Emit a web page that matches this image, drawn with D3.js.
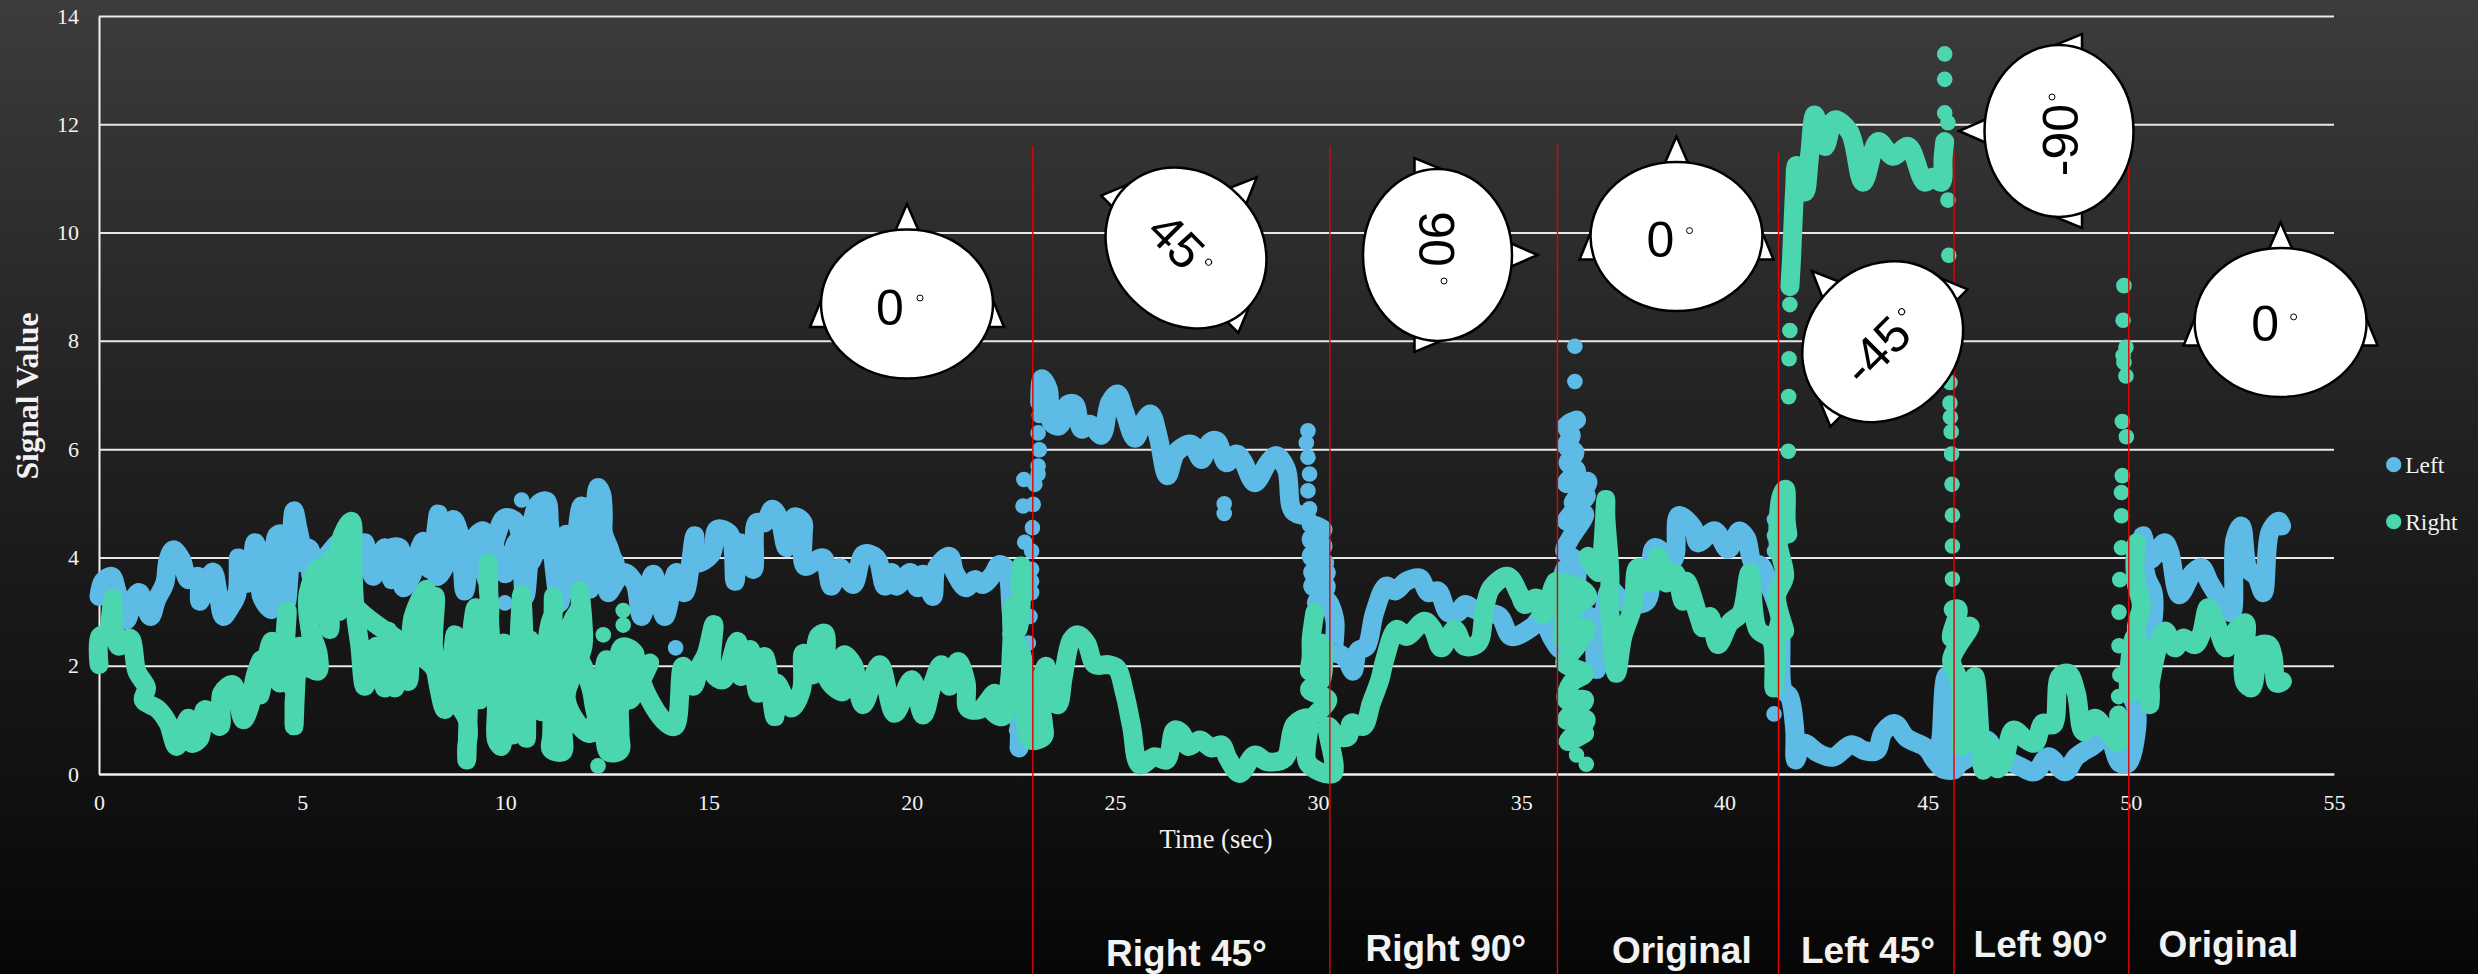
<!DOCTYPE html>
<html>
<head>
<meta charset="utf-8">
<script src="https://cdn.jsdelivr.net/npm/d3@7"></script>
<style>
  html, body { margin: 0; padding: 0; background: #000; overflow: hidden; }
  svg { display: block; }
  .axis text { font-family: "Liberation Serif", serif; fill: #f2f2f2; }
</style>
</head>
<body>
<div id="chart"></div>
<script>
const xTicks = [0, 5, 10, 15, 20, 25, 30, 35, 40, 45, 50, 55];
const yTicks = [0, 2, 4, 6, 8, 10, 12, 14];
const seriesNames = ['Left', 'Right'];
const phaseNames = ['Right 45°', 'Right 90°', 'Original', 'Left 45°', 'Left 90°', 'Original'];
const phaseTimes = [22.98, 30.29, 35.89, 41.33, 45.65, 49.95];
const phaseTops = [11.6, 11.6, 11.63, 11.47, 11.5, 11.5];
const headLabels = ['0', '45', '90', '0', '-45', '-90', '0'];

// [time, value] runs, each run is one unbroken band of markers
const leftRunA = [[0,3.28],[.1,3.56],[.31,3.65],[.43,3.41],[.56,3.04],[.68,2.85],[.84,3.22],[.99,3.35],[1.13,3.1],[1.27,2.91],[1.42,3.22],[1.62,3.53],[1.7,3.96],[1.83,4.14],[2.03,3.96],[2.2,3.59],[2.44,3.65],[2.48,3.19],[2.65,3.53],[2.81,3.73],[2.93,3.35],[3.06,2.91],[3.22,3.07],[3.39,3.31],[3.43,3.99],[3.47,3.59],[3.67,3.53],[3.84,4.27],[3.96,3.9],[4,3.28],[4.25,3.04],[4.37,4.4],[4.49,4.43],[4.61,3.16],[4.7,3.9],[4.8,4.86],[4.9,4.52],[5.02,4.21],[5.19,4.15],[5.23,3.65],[5.64,4.06],[6,4.3],[6.5,3.9],[6.54,4.27],[6.75,3.65],[7.03,4.18],[7.2,3.59],[7.16,4.15],[7.4,4.18],[7.49,3.44],[7.69,3.65],[7.98,4.3],[8.14,3.78],[8.35,4.8],[8.31,3.65],[8.51,3.84],[8.72,4.7],[8.88,4.4],[9,3.38],[9.21,4.33],[9.46,4.49],[9.54,3.59],[9.78,4.4],[9.99,4.73],[10.27,4.64],[10.48,3.28],[10.77,4.95],[11.01,5.04],[11.09,4.58],[11.34,3.16],[11.5,4.43],[11.59,3.41],[11.87,4.95],[12.08,3.41],[12.28,5.29],[12.37,5.17],[12.41,4.77],[12.41,4.46],[12.61,4.02],[12.53,3.35],[12.9,3.72],[13.18,3.53],[13.35,2.91],[13.64,3.69],[13.92,2.91],[14.21,3.72],[14.41,3.35],[14.66,4.4],[14.7,3.9],[15.07,4.06],[15.21,4.52],[15.52,4.43],[15.65,3.56],[15.77,4.27],[16.1,3.78],[16.18,4.64],[16.38,4.64],[16.57,4.89],[16.75,4.7],[16.92,4.18],[17.12,4.75],[17.33,4.64],[17.33,4.43],[17.37,3.84],[17.82,3.99],[18.02,3.47],[18.23,3.81],[18.56,3.5],[18.82,4.06],[19.13,3.99],[19.34,3.47],[19.5,3.72],[19.62,3.47],[19.97,3.72],[20.15,3.44],[20.28,3.69],[20.52,3.28],[20.61,3.81],[20.93,4.02],[21.06,3.72],[21.34,3.44],[21.55,3.59],[21.75,3.5],[22,3.69],[22.16,3.87],[22.33,3.78],[22.45,2.98],[22.65,.81],[22.64,.48]];
const leftRunBody = [[4.2,3.5],[4.4,4],[4.6,3.6],[4.8,4.2],[5,3.9],[5.3,4],[5.6,3.9],[6,4],[8.2,4],[8.5,4.3],[8.8,3.9],[9.1,4.2],[9.4,3.8],[9.7,4.2],[10,3.7],[10.3,4.3],[10.6,3.9],[10.9,4.4],[11.2,4],[11.5,3.9],[11.8,4.2],[12.1,3.9],[12.4,4.2],[12.7,3.9]];
const leftRunB = [[23.15,6.86],[23.2,7.3],[23.36,7.11],[23.44,6.49],[23.63,6.43],[23.85,6.83],[24.01,6.83],[24.18,6.37],[24.38,6.46],[24.67,6.26],[24.87,6.86],[25.06,7.02],[25.24,6.68],[25.49,6.2],[25.69,6.49],[25.88,6.65],[26.06,6.25],[26.29,5.51],[26.51,5.94],[26.88,6.09],[27.13,5.81],[27.33,6.12],[27.51,6.15],[27.74,5.75],[27.99,5.91],[28.15,5.78],[28.44,5.38],[28.77,5.75],[28.97,5.88],[29.22,5.63],[29.38,4.86],[29.71,4.77]];
const leftRunC = [[29.83,4.61],[30.12,4.52],[29.83,4.33],[30.12,4.21],[29.83,4.02],[30.16,3.9],[29.87,3.72],[30.2,3.72],[29.87,3.47],[30.2,3.47],[29.96,3.16],[30.2,3.22],[30.41,2.85],[30.41,2.23],[30.49,2.23],[30.7,2.11],[30.86,1.9],[30.98,2.27],[31.19,2.36],[31.39,2.98],[31.68,3.47],[31.89,3.38],[32.17,3.56],[32.5,3.62],[32.71,3.35],[32.95,3.38],[33.2,2.98],[33.44,2.98],[33.61,3.13],[33.85,3.04],[34.14,2.98],[34.47,2.91],[34.75,2.54],[35.29,2.73],[35.49,2.88],[35.78,2.48],[35.98,2.3],[36.07,3.78],[36.4,3.9],[36.07,4.12],[36.19,4.33],[36.56,4.8],[36.11,4.67],[36.6,5.14],[36.28,5.01],[36.64,5.4],[36.11,5.37],[36.36,5.6],[36.15,5.75],[36.32,5.94],[36.11,6.06],[36.23,6.25],[36.11,6.43],[36.36,6.54]];
const leftRunD = [[36.4,3.9],[36.4,2.85],[36.69,2.91],[36.85,1.93],[37.18,3.41],[37.38,3.28],[37.55,3.16],[38.08,3.19],[38.28,4.18],[38.74,3.96],[38.87,4.77],[39.23,4.55],[39.35,4.27],[39.76,4.49],[40.09,4.15],[40.37,4.49],[40.54,4.36],[40.7,3.9],[40.91,3.84],[41.11,3.47],[41.36,2.91],[41.44,1.56],[41.6,1.43],[41.73,.81],[41.75,.26],[41.94,.57],[42.3,.39],[42.67,.31],[43.12,.54],[43.45,.43],[43.74,.43],[43.9,.76],[44.19,.93],[44.48,.67],[44.97,.48],[45.21,.22],[45.46,.09],[45.42,1.06],[45.51,1.8],[45.46,1.81],[45.34,.76],[45.3,.14],[45.63,.07],[45.79,.2],[46.04,.32],[46.45,.63],[46.7,.38],[47.27,.14],[47.64,.04],[47.97,.32],[48.38,.04],[48.66,.32],[49.15,.57],[49.4,.8],[49.73,.2],[49.93,.2],[50.14,.81],[50.14,1.19],[50.02,1.49],[50.3,2],[50.55,2.85],[50.55,3.35],[50.38,3.65],[50.3,4.4],[50.47,3.96],[50.83,4.27],[50.96,4.09],[51.19,3.31],[51.53,3.72],[51.74,3.81],[51.94,3.53],[52.31,3.1],[52.48,2.98],[52.56,4.33],[52.72,4.58],[52.89,3.78],[53.09,3.65],[53.26,3.35],[53.42,4.46],[53.64,4.67],[53.71,4.58]];
const leftDots = [[9.99,3.16],[10.4,5.06],[14.19,2.33],[22.58,.81],[22.87,2.42],[22.91,2.91],[22.95,3.35],[22.95,3.56],[22.95,3.78],[22.95,4.12],[22.78,4.28],[22.97,4.55],[22.74,4.95],[22.99,4.98],[22.76,5.44],[23.03,5.35],[23.11,5.54],[23.11,5.69],[23.14,5.99],[23.11,6.3],[23.14,6.62],[27.69,4.99],[27.69,4.81],[29.75,6.34],[29.71,6.12],[29.75,5.85],[29.79,5.54],[29.75,5.23],[29.79,4.9],[36.32,7.9],[36.32,7.25],[41.23,4.7],[41.23,4.4],[41.23,4.12],[41.22,1.11]];

const rightRunA = [[0,2.02],[.02,2.54],[.19,2.6],[.34,3.25],[.35,2.98],[.48,2.36],[.72,2.51],[.8,2.48],[.93,1.9],[1.17,1.59],[1.09,1.37],[1.46,1.19],[1.7,.94],[1.91,.51],[2.2,1.03],[2.28,.57],[2.48,.66],[2.61,1.19],[2.98,.88],[3.02,1.49],[3.3,1.65],[3.55,1],[3.71,1.25],[3.84,1.8],[4,2.11],[3.96,1.46],[4.25,2.45],[4.45,1.68],[4.63,3.01],[4.61,1.74],[4.8,1.56],[4.8,1.31],[4.8,1.06],[4.8,.89],[4.86,1.86],[4.94,2.36],[5.1,2.02],[5.39,1.9],[5.39,2.23],[5.19,2.7],[5.15,3.35],[5.43,3.81],[5.68,2.67],[5.68,3.96],[6.01,3.07],[5.93,4.27],[6.21,4.67],[6.25,3.78],[6.3,3.04],[6.42,2.36],[6.54,1.62],[6.83,2.36],[7.03,1.59],[7.11,2.64],[7.28,1.59],[7.4,2.36],[7.61,1.71],[7.73,2.91],[8.06,3.41],[7.9,2.36],[8.27,3.28],[8.23,2.36],[8.39,1.49],[8.51,1.19],[8.76,2.57],[8.72,1.49],[9.06,1],[9.09,.72],[9.05,.51],[9.05,.26],[9.17,2.6],[9.27,3.07],[9.37,1.37],[9.62,3.07],[9.58,3.41],[9.58,3.9],[9.62,2.7],[9.78,1.31],[9.78,.63],[9.9,.51],[9.95,2.42],[10.19,.72],[10.36,2.85],[10.4,3.31],[10.52,.97],[10.52,.66],[10.6,2.48],[10.89,1.15],[11.01,2.36],[11.09,2.76],[11.18,2.98],[11.18,3.27],[11.14,.72],[11.12,.46],[11.41,.41],[11.42,.75],[11.41,.94],[11.63,2.79],[11.83,3.07],[11.83,3.38],[11.91,2.79],[11.91,2.36],[11.5,1.37],[12.08,.75],[12.49,2.11],[12.53,.41],[12.82,.44],[12.82,.75],[12.87,2.34],[13.18,2.23],[13.06,1.37],[13.55,2.05],[13.35,1.8],[13.88,1],[14.17,.88],[14.37,1.99],[14.62,1.62],[14.79,1.99],[14.95,2.23],[15.13,2.76],[15.11,1.86],[15.36,1.74],[15.71,2.45],[15.81,1.8],[16.02,2.3],[16.22,1.49],[16.38,2.17],[16.63,1.06],[16.67,1.68],[17.04,1.22],[17.29,1.56],[17.33,2.23],[17.57,1.83],[17.7,2.54],[17.86,2.6],[17.94,1.74],[18.31,1.52],[18.33,2.2],[18.56,2.02],[18.8,1.28],[19.21,2.02],[19.58,1.12],[20,1.74],[20.28,1.09],[20.52,1.68],[20.73,2.02],[20.93,1.62],[21.14,2.08],[21.34,1.68],[21.38,1.22],[21.67,1.19],[22.04,1.49],[21.96,1.19],[22.24,1.06],[22.41,1.74],[22.45,2.23],[22.47,2.54],[22.49,3.07],[22.7,3.25],[22.66,3.47],[22.7,3.84],[22.61,2.67],[22.46,2.6],[22.7,2.23],[22.78,1.74],[22.78,1.19],[22.91,.63],[23.24,.69],[23.24,.94],[23.15,1.43],[23.3,1.99],[23.4,1.49],[23.6,1.28],[23.73,1.8],[23.93,2.48],[24.1,2.57],[24.3,2.42],[24.51,2.02],[24.83,2.02],[25.04,1.96],[25.24,1.49],[25.41,.88],[25.61,.17],[25.98,.32],[26.27,.26],[26.47,.81],[26.64,.75],[26.8,.51],[27.09,.63],[27.38,.48],[27.62,.54],[27.78,.29],[28.07,.01],[28.44,.35],[28.73,.23],[29.18,.29],[29.42,.91],[29.75,1.03],[29.75,.2],[30.37,.01],[30.24,.88],[30.49,.69],[30.74,.69],[30.82,.94],[31.11,.88],[31.31,1.31],[31.52,1.74],[31.64,2.11],[31.93,2.67],[32.17,2.54],[32.62,2.82],[32.83,2.67],[33.03,2.33],[33.36,2.67],[33.61,2.36],[33.94,2.42],[34.1,3.07],[34.26,3.44],[34.67,3.65],[34.96,3.31],[35.08,3.13],[35.37,3.25],[35.53,2.94],[35.86,3.56],[36.03,2.98],[36.03,2.48]];
const rightRunBody = [[4.3,2],[4.6,2.3],[4.9,1.9],[5.2,2.2],[5.2,3],[5.5,3.5],[5.6,3],[5.8,3.7],[5.9,3],[6.1,3.8],[6.2,3.2],[8.2,2],[8.5,1.6],[8.8,2],[9.1,1.6],[9.4,2.1],[9.7,1.5],[10,2.1],[10.3,1.5],[10.6,2.1],[10.9,1.6],[11.2,2.1],[11.5,1.6],[11.8,2.1],[12.1,1.6],[12.2,1.2],[12.4,.7],[12.5,1.8],[12.6,1],[12.7,1.7],[12.8,1.2],[13,1.9],[13.1,1.5],[13.3,1.9]];
const rightRunB = [[29.92,2.98],[29.83,2.48],[29.83,2.17],[29.79,1.9],[30.08,2.42],[30.08,1.74],[29.79,1.56],[30.24,1.37],[29.96,1.12]];
const rightRunC = [[36.03,3.53],[36.44,3.44],[36.64,3.28],[36.36,3.1],[36.03,2.54],[36.6,2.7],[36.36,2.36],[36.07,2.05],[36.56,1.86],[36.23,1.68],[36.11,1.37],[36.56,1.37],[36.11,1],[36.6,1],[36.15,.6],[36.56,.75]];
const rightRunD = [[36.64,4.02],[36.89,3.72],[37.08,5.07],[37.08,4.77],[37.18,3.72],[37.18,2.98],[37.34,1.86],[37.5,2.54],[37.75,3.1],[37.87,3.81],[38.24,3.53],[38.37,4.02],[38.57,3.53],[38.78,3.72],[38.98,3.19],[39.06,3.56],[39.39,2.85],[39.47,2.7],[39.64,2.91],[39.84,2.39],[40.13,2.79],[40.41,2.98],[40.62,3.72],[40.82,2.67],[41.15,2.48],[41.22,1.59],[41.36,2.79],[41.48,2.64],[41.28,3.28],[41.48,3.65],[41.32,4.27],[41.4,5.14],[41.5,5.26],[41.52,4.67],[41.56,4.43]];
const rightRunE = [[41.61,9],[41.65,9.51],[41.69,10.22],[41.73,10.84],[41.77,11.24],[41.98,10.75],[42.1,11.46],[42.22,12.17],[42.47,11.59],[42.71,12.08],[43.08,11.86],[43.41,10.93],[43.78,11.68],[44.15,11.41],[44.52,11.59],[44.93,10.93],[45.13,11.02],[45.34,10.93],[45.38,11.37],[45.42,11.68]];
const rightRunF = [[45.63,3.04],[45.75,3.04],[45.59,2.51],[46.04,2.73],[45.59,2.11],[45.79,1.68],[45.83,.51],[46.04,1.49],[46.16,1.8],[46.37,.07],[46.49,.57],[46.7,.1],[46.86,.2],[47.11,.81],[47.43,.63],[47.64,.57],[47.84,.94],[48.09,.91],[48.25,1.8],[48.46,1.86],[48.66,1.49],[48.83,.78],[49.11,1.03],[49.4,.81],[49.69,.57],[49.7,1.09]];
const rightRunG = [[50.14,4.27],[50.1,3.84],[50.14,3.5],[50.26,3.1],[50.14,2.73],[50.22,1.68],[49.97,1.49],[50.1,2.54],[50.47,1.62],[50.47,1.28],[50.47,1.62],[50.84,2.64],[51.08,2.33],[51.29,2.51],[51.58,2.39],[51.74,2.6],[51.9,3.07],[52.07,2.85],[52.35,2.33],[52.6,2.67],[52.82,2.79],[52.76,1.99],[52.81,1.68],[52.97,1.59],[53.09,2.05],[53.13,2.36],[53.38,2.39],[53.5,2.17],[53.58,1.68],[53.66,1.68],[53.73,1.71]];
const rightDots = [[12.28,.15],[12.41,2.57],[12.9,3.02],[12.9,2.75],[36.36,.35],[36.6,.18],[41.57,5.96],[41.58,6.97],[41.59,7.67],[41.61,8.19],[41.61,8.67],[45.42,13.3],[45.42,12.83],[45.42,12.21],[45.5,12.03],[45.5,10.6],[45.52,9.58],[45.55,7.23],[45.55,6.85],[45.56,6.59],[45.58,6.32],[45.59,5.91],[45.6,5.35],[45.61,4.78],[45.61,4.21],[45.61,3.6],[49.7,1.43],[49.73,1.83],[49.71,2.37],[49.71,2.99],[49.73,3.59],[49.77,4.18],[49.77,4.77],[49.77,5.2],[49.79,5.51],[49.89,6.23],[49.79,6.51],[49.88,7.35],[49.83,7.6],[49.81,7.73],[49.88,7.88],[49.81,8.38],[49.83,9.02]];

const leftRuns = [leftRunA, leftRunBody, leftRunB, leftRunC, leftRunD];
const rightRuns = [rightRunA, rightRunBody, rightRunB, rightRunC, rightRunD, rightRunE, rightRunF, rightRunG];

const W = 2478, H = 974;
const colors = {Left: '#5dbbe6', Right: '#4cd6b0'};
const R = 7.8;
const BAND = 19;

const x = d3.scaleLinear().domain([0, 55]).range([99, 2334]);
const y = d3.scaleLinear().domain([0, 14]).range([774, 16]);

const svg = d3.select('#chart').append('svg').attr('width', W).attr('height', H);

// backdrop
const grad = svg.append('defs').append('linearGradient')
  .attr('id', 'bg').attr('x1', 0).attr('x2', 0).attr('y1', 0).attr('y2', 1);
[[0, '#3c3c3c'], [.3, '#292929'], [.6, '#191919'], [.8, '#111111'], [1, '#060606']]
  .forEach(([o, c]) => grad.append('stop').attr('offset', o).attr('stop-color', c));
svg.append('rect').attr('width', W).attr('height', H).attr('fill', 'url(#bg)');

// axes
const yAxis = svg.append('g').attr('class', 'axis')
  .attr('transform', `translate(${x(0)},0)`)
  .call(d3.axisLeft(y).tickValues(yTicks).tickSize(-(x(55) - x(0))).tickSizeOuter(0).tickPadding(20));
const xAxis = svg.append('g').attr('class', 'axis')
  .attr('transform', `translate(0,${y(0)})`)
  .call(d3.axisBottom(x).tickValues(xTicks).tickSize(0).tickSizeOuter(0).tickPadding(20));
[yAxis, xAxis].forEach(a => {
  a.selectAll('.domain').attr('stroke', '#f0f0f0').attr('stroke-width', 2);
  a.selectAll('line').attr('stroke', '#e8e8e8').attr('stroke-width', 2);
  a.selectAll('text').attr('font-size', 22);
});

svg.append('text').attr('x', 1216).attr('y', 848).attr('text-anchor', 'middle')
  .attr('font-family', '"Liberation Serif", serif').attr('font-size', 26.5).attr('fill', '#f2f2f2')
  .text('Time (sec)');
svg.append('text').attr('transform', 'translate(38,396) rotate(-90)').attr('text-anchor', 'middle')
  .attr('font-family', '"Liberation Serif", serif').attr('font-weight', 'bold').attr('font-size', 31.5)
  .attr('fill', '#f2f2f2').text('Signal Value');

// markers
const line = d3.line().x(d => x(d[0])).y(d => y(d[1])).curve(d3.curveCatmullRom.alpha(.5));
function drawSeries(runs, dots, color) {
  const g = svg.append('g');
  g.selectAll('path').data(runs).join('path')
    .attr('d', line).attr('fill', 'none').attr('stroke', color)
    .attr('stroke-width', BAND).attr('stroke-linejoin', 'round').attr('stroke-linecap', 'round');
  g.selectAll('circle').data(runs.flat().concat(dots)).join('circle')
    .attr('cx', d => x(d[0])).attr('cy', d => y(d[1])).attr('r', R).attr('fill', color);
}
drawSeries(leftRuns, leftDots, colors.Left);
drawSeries(rightRuns, rightDots, colors.Right);

// phase dividers
svg.append('g').selectAll('line').data(phaseTimes).join('line')
  .attr('x1', d => x(d)).attr('x2', d => x(d))
  .attr('y1', (d, i) => y(phaseTops[i])).attr('y2', H)
  .attr('stroke', '#e80000').attr('stroke-width', 1.4);

// head icons: centre, rotation, then local text / degree offsets
const headLayout = [
  {cx: 907, cy: 304, rot: 0, tx: -17, ty: 4, dx: 13, dy: -6},
  {cx: 1186, cy: 248, rot: 45, tx: -12, ty: 2, dx: 26, dy: -6},
  {cx: 1437.5, cy: 255, rot: 90, tx: -16, ty: 1.5, dx: 26, dy: -6.5},
  {cx: 1676.5, cy: 236.6, rot: 0, tx: -16, ty: 3, dx: 13, dy: -6},
  {cx: 1882.7, cy: 341.7, rot: -45, tx: -10.6, ty: 2, dx: 34.6, dy: -7.8},
  {cx: 2059, cy: 131, rot: -90, tx: -9, ty: 2, dx: 34, dy: -7},
  {cx: 2280.6, cy: 322.4, rot: 0, tx: -15.5, ty: 2, dx: 13, dy: -5.5}
];
const headG = svg.append('g').selectAll('g').data(headLayout).join('g')
  .attr('transform', d => `translate(${d.cx},${d.cy}) rotate(${d.rot})`);
['0,-100 -14,-68 14,-68', '-97,23 -58,23 -76,-28', '97,23 58,23 76,-28'].forEach(pts => {
  headG.append('polygon').attr('points', pts).attr('fill', '#fff')
    .attr('stroke', '#000').attr('stroke-width', 2.5);
});
headG.append('ellipse').attr('rx', 86).attr('ry', 74.5).attr('fill', '#fff')
  .attr('stroke', '#000').attr('stroke-width', 2.5);
headG.append('text').attr('x', d => d.tx).attr('y', d => d.ty)
  .attr('text-anchor', 'middle').attr('dominant-baseline', 'central')
  .attr('font-family', '"Liberation Sans", sans-serif').attr('font-size', 50).attr('fill', '#000')
  .text((d, i) => headLabels[i]);
headG.append('circle').attr('cx', d => d.dx).attr('cy', d => d.dy).attr('r', 3)
  .attr('fill', '#fff').attr('stroke', '#000').attr('stroke-width', 1);

// phase names under the axis
const phasePos = [[1186.5, 966], [1445.8, 961], [1681.8, 963], [1868, 963], [2040.6, 956.5], [2228.5, 956.5]];
svg.append('g').selectAll('text').data(phaseNames).join('text')
  .attr('x', (d, i) => phasePos[i][0]).attr('y', (d, i) => phasePos[i][1])
  .attr('text-anchor', 'middle').attr('font-family', '"Liberation Sans", sans-serif')
  .attr('font-weight', 'bold').attr('font-size', 37).attr('fill', '#f2f2f2').text(d => d);

// legend
const legend = svg.append('g').selectAll('g').data(seriesNames).join('g')
  .attr('transform', (d, i) => `translate(2393.7,${464.7 + i * 57})`);
legend.append('circle').attr('r', 7.6).attr('fill', d => colors[d]);
legend.append('text').attr('x', 11.5).attr('y', 8).attr('font-family', '"Liberation Serif", serif')
  .attr('font-size', 23.5).attr('fill', '#f2f2f2').text(d => d);
</script>
</body>
</html>
